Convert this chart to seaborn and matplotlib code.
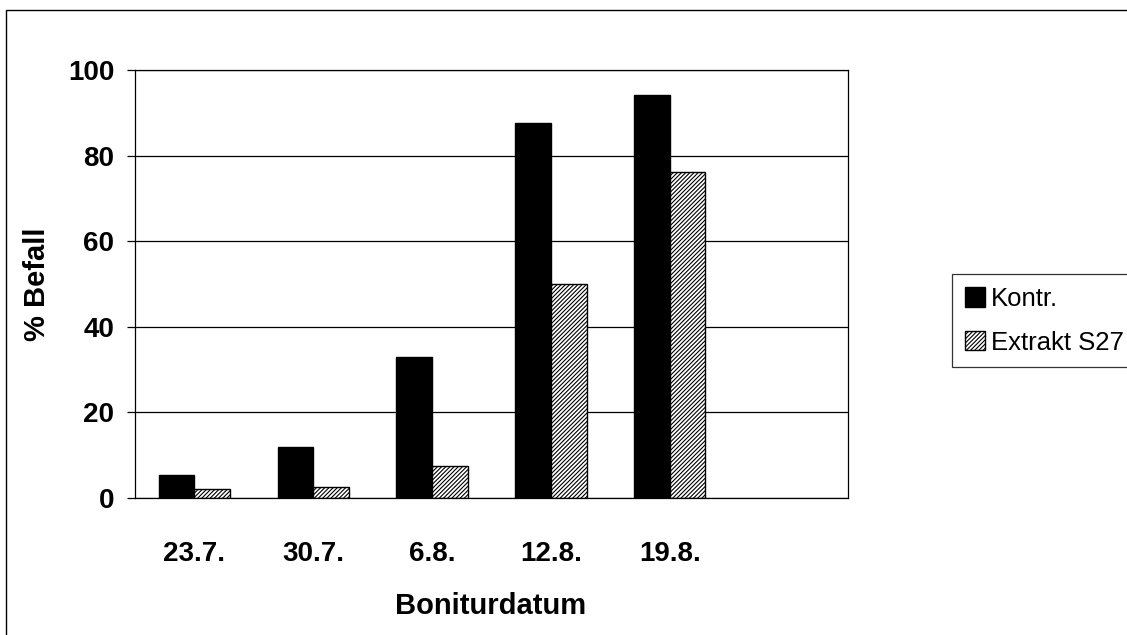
import matplotlib
matplotlib.use("Agg")
import matplotlib.pyplot as plt
import seaborn as sns
import pandas as pd
from matplotlib.patches import Rectangle

# Data
dates = ["23.7.", "30.7.", "6.8.", "12.8.", "19.8."]
kontr = [5.4, 11.9, 33.0, 87.6, 94.2]
extrakt = [2.0, 2.6, 7.5, 50.0, 76.2]
series = ["Kontr.", "Extrakt S27"]

df = pd.DataFrame({
    "Boniturdatum": dates * 2,
    "Befall": kontr + extrakt,
    "Serie": [series[0]] * len(dates) + [series[1]] * len(dates),
})

sns.set_theme(style="white")
plt.rcParams["font.family"] = ["Liberation Sans", "DejaVu Sans"]
plt.rcParams["hatch.linewidth"] = 0.8
for key in ["text.color", "axes.labelcolor", "xtick.color", "ytick.color"]:
    plt.rcParams[key] = "black"

fig = plt.figure(figsize=(11.27, 6.35), dpi=100)
fig.patch.set_facecolor("white")
ax = fig.add_axes([135 / 1127, 1 - 498 / 635, 713 / 1127, 428 / 635])

sns.barplot(
    data=df, x="Boniturdatum", y="Befall", hue="Serie", order=dates,
    hue_order=series, palette={series[0]: "black", series[1]: "white"},
    width=0.6, edgecolor="black", linewidth=1.0, saturation=1,
    legend=False, ax=ax,
)
for patch in ax.containers[1]:
    patch.set_hatch("////////")
    patch.set_edgecolor("black")

ax.set_xlim(-0.5, 5.5)
ax.set_ylim(0, 100)
ax.set_yticks([0, 20, 40, 60, 80, 100])
ax.yaxis.grid(True, color="black", linewidth=0.9)
ax.set_axisbelow(True)
for side in ["left", "right", "top", "bottom"]:
    ax.spines[side].set_visible(True)
    ax.spines[side].set_color("black")
    ax.spines[side].set_linewidth(0.9)

ax.tick_params(axis="y", which="major", left=True, length=6, width=0.9,
               color="black", pad=9, labelsize=20, labelcolor="black")
ax.tick_params(axis="x", which="major", bottom=False, pad=25, labelsize=20,
               labelcolor="black")
for lab in ax.get_yticklabels() + ax.get_xticklabels():
    lab.set_fontweight("bold")

ax.set_xlabel("Boniturdatum", fontsize=21, fontweight="bold", color="black")
ax.set_ylabel("% Befall", fontsize=21, fontweight="bold", color="black")
ax.xaxis.set_label_coords(0.499, -0.22)
ax.yaxis.set_label_coords(-0.118, 0.5)

leg = ax.legend(
    handles=[ax.containers[0], ax.containers[1]], labels=series,
    loc="upper left", bbox_to_anchor=(952 / 1127, 1 - 274 / 635),
    bbox_transform=fig.transFigure, fontsize=18.5, frameon=True, fancybox=False,
    edgecolor="black", handlelength=0.78, handleheight=0.78,
    handletextpad=0.25, labelspacing=0.77, borderpad=0.5, borderaxespad=0,
)
leg.get_frame().set_linewidth(0.9)
for t in leg.get_texts():
    t.set_color("black")

# Outer chart-area frame (top and left edges inside the image)
fig.patches.append(Rectangle((6 / 1127, -0.2), 1.5, 1.2 - 10 / 635,
                             transform=fig.transFigure, fill=False,
                             edgecolor="black", linewidth=1.0))

fig.savefig("out.png", dpi=100, facecolor="white")
